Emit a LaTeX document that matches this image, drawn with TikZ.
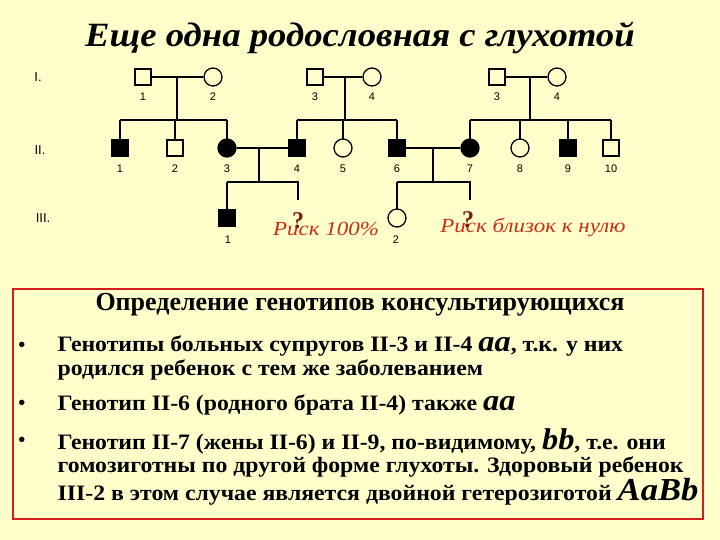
\documentclass[tikz,border=0pt]{standalone}
\usepackage{fontspec}
\setmainfont{Liberation Serif}
\newfontfamily\sans{Liberation Sans}
\begin{document}
\begin{tikzpicture}[x=1pt,y=-1pt,line width=1.3pt,
 m/.style={draw,rectangle,minimum size=16pt,inner sep=0pt,fill=bg},
 f/.style={draw,circle,minimum size=18pt,inner sep=0pt,fill=bg},
 af/.style={fill=black},
 num/.style={font=\sans\fontsize{11}{11}\selectfont,inner sep=0pt},
 gen/.style={font=\sans\fontsize{13}{13}\selectfont,inner sep=0pt},
 risk/.style={font=\itshape\fontsize{20}{20}\selectfont,text=rk,inner sep=0pt,xscale=1.15},
 txt/.style={font=\bfseries\fontsize{22}{22}\selectfont,anchor=west,inner sep=0pt,xscale=1.08},
 big/.style={}]
\definecolor{bg}{RGB}{255,255,204}
\definecolor{rk}{RGB}{205,45,20}
\definecolor{bx}{RGB}{215,30,30}
\fill[bg] (0,0) rectangle (720,540);
\useasboundingbox (0,0) rectangle (720,540);
\node[font=\bfseries\itshape\fontsize{34}{34}\selectfont,xscale=1.08] (title) at (360,38) {Еще одна родословная с глухотой};
\node[gen] (g1) at (38,77) {I.}; \node[gen] (g2) at (40,150) {II.}; \node[gen] (g3) at (43,218) {III.};
\coordinate (c1) at (177,77); \coordinate (c2) at (345,77); \coordinate (c3) at (530,77);
\coordinate (s1) at (177,120); \coordinate (s2) at (345,120); \coordinate (s3) at (530,120);
\coordinate (s4) at (259,182); \coordinate (s5) at (433,182);
\coordinate (t1) at (298,200); \coordinate (t2) at (470,200);
\node[m] (i1) at (143,77) {}; \node[f] (i2) at (213,77) {};
\node[m] (i3) at (315,77) {}; \node[f] (i4) at (372,77) {};
\node[m] (i5) at (497,77) {}; \node[f] (i6) at (557,77) {};
\draw (i1) -- (i2); \draw (i3) -- (i4); \draw (i5) -- (i6);
\draw (c1) -- (s1); \draw (c2) -- (s2); \draw (c3) -- (s3);
\draw (120,120) -- (227,120); \draw (297,120) -- (397,120); \draw (470,120) -- (611,120);
\foreach \x in {120,175,227,297,343,397,470,520,568,611} \draw (\x,120) -- (\x,140);
\draw (259,148) -- (s4); \draw (433,148) -- (s5);
\draw (227,182) -- (298,182) -- (t1); \draw (397,182) -- (470,182) -- (t2);
\draw (227,182) -- (227,210); \draw (397,182) -- (397,210);
\node[m,af] (ii1) at (120,148) {}; \node[m] (ii2) at (175,148) {};
\node[f,af] (ii3) at (227,148) {}; \node[m,af] (ii4) at (297,148) {};
\node[f] (ii5) at (343,148) {}; \node[m,af] (ii6) at (397,148) {};
\node[f,af] (ii7) at (470,148) {}; \node[f] (ii8) at (520,148) {};
\node[m,af] (ii9) at (568,148) {}; \node[m] (ii10) at (611,148) {};
\draw (ii3) -- (ii4); \draw (ii6) -- (ii7);
\node[m,af] (iii1) at (227,218) {}; \node[f] (iii2) at (397,218) {};
\foreach \x/\t in {143/1,213/2,315/3,372/4,497/3,557/4} \node[num] at (\x,97) {\t};
\foreach \x/\t in {120/1,175/2,227/3,297/4,343/5,397/6,470/7,520/8,568/9,611/10} \node[num] at (\x,169) {\t};
\node[num] (n31) at (228,240) {1}; \node[num] (n32) at (396,240) {2};
\node[risk] (r1) at (326,229) {Риск 100\%};
\node[risk] (r2) at (533,228) {Риск близок к нулю};
\node[font=\bfseries\fontsize{24}{24}\selectfont,text=rk!60!black] (q1) at (298,221) {?};
\node[font=\bfseries\fontsize{24}{24}\selectfont,text=rk!60!black] (q2) at (468,220) {?};
\draw[bx,line width=2.5pt] (13,289) rectangle (703,519);
\node[font=\bfseries\fontsize{26}{26}\selectfont] (hd) at (360,305) {Определение генотипов консультирующихся};
\foreach \y in {347,405,442} \node[font=\bfseries\fontsize{20}{20}\selectfont] at (22,\y) {•};
\node[txt] (l1) at (57,346) {Генотипы больных супругов II-3 и II-4 \textit{\fontsize{30}{30}\selectfont aa}, т.к. у них};
\node[txt] (l2) at (57,370) {родился ребенок с тем же заболеванием};
\node[txt] (l3) at (57,405) {Генотип II-6 (родного брата II-4) также \textit{\fontsize{30}{30}\selectfont aa}};
\node[txt] (l4) at (57,441) {Генотип II-7 (жены II-6) и II-9, по-видимому, \textit{\fontsize{30}{30}\selectfont bb}, т.е. они};
\node[txt] (l5) at (57,467) {гомозиготны по другой форме глухоты. Здоровый ребенок};
\node[txt] (l6) at (57,492) {III-2 в этом случае является двойной гетерозиготой \textit{\fontsize{32}{32}\selectfont AaBb}};
\end{tikzpicture}
\end{document}
